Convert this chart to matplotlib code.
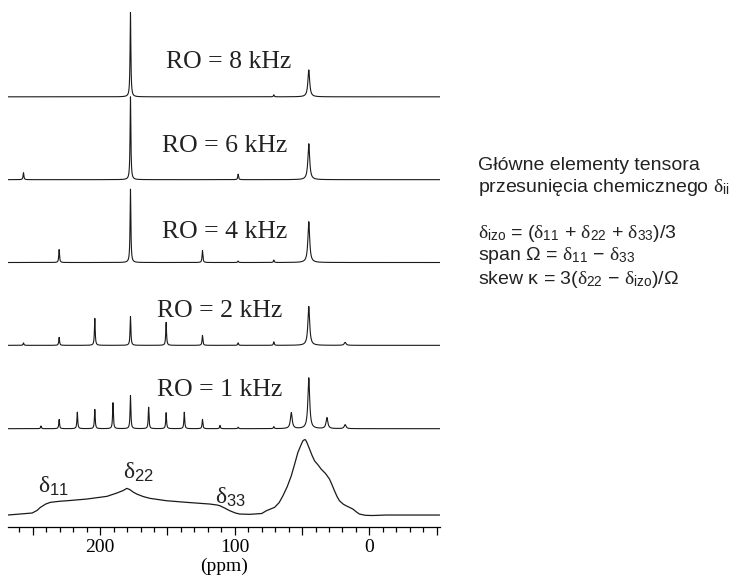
import numpy as np
import matplotlib.pyplot as plt
from matplotlib.ticker import MultipleLocator, FuncFormatter

plt.rcParams['mathtext.fontset'] = 'custom'
plt.rcParams['mathtext.rm'] = 'Liberation Sans'
plt.rcParams['mathtext.it'] = 'Liberation Serif'
plt.rcParams['mathtext.bf'] = 'Liberation Sans:bold'

# =========================
# Data
# =========================
# static powder pattern (ppm, intensity)
static_ppm = [268.6, 250.6, 247.0, 244.4, 240.5, 237.0, 230.0, 224.7, 210.0,
              195.0, 187.7, 183.0, 180.2, 178.0, 175.5, 172.8, 168.0, 163.0,
              150.6, 135.8, 118.5, 113.0, 111.1, 107.5, 103.7, 99.5, 96.3,
              88.9, 80.0, 76.5, 70.4, 67.0, 64.2, 61.0, 58.0, 55.5, 53.1,
              51.0, 49.4, 48.2, 47.4, 46.2, 44.4, 42.5, 40.7, 38.0, 35.8,
              32.5, 29.6, 27.8, 25.9, 24.0, 22.2, 19.5, 17.3, 14.5, 12.3,
              9.5, 7.4, 3.0, -2.5, -12.3, -30.0, -52.0]
static_int = [0.0, 2.0, 4.5, 7.7, 11.0, 12.7, 13.8, 14.3, 16.0,
              18.7, 22.0, 24.5, 26.7, 25.5, 23.0, 21.0, 18.5, 16.7,
              14.3, 12.7, 11.0, 10.0, 9.3, 7.0, 4.3, 2.0, 1.0,
              0.7, 1.5, 4.3, 7.7, 12.5, 19.3, 28.5, 39.3, 51.0, 62.7,
              69.5, 74.3, 75.5, 75.3, 72.0, 66.0, 59.5, 54.3, 50.0, 46.0,
              41.5, 36.0, 30.5, 24.3, 18.5, 14.3, 11.0, 9.3, 7.5, 6.0,
              3.0, 1.0, -0.3, -0.5, 0.0, 0.0, 0.0]

# spinning spectra: peak positions (ppm) and heights
ro1_ppm = [244.0, 230.5, 217.0, 204.0, 190.5, 177.5, 164.0, 151.0, 137.5,
           124.0, 111.0, 97.5, 71.0, 58.0, 45.0, 31.5, 18.0]
ro1_h = [2.7, 9.3, 16.5, 19.3, 26.0, 33.3, 21.5, 16.0, 16.5,
         9.3, 3.3, 1.5, 2.0, 16.0, 51.0, 11.0, 4.0]

ro2_ppm = [257.0, 230.5, 204.0, 177.5, 151.0, 124.0, 97.5, 71.0, 45.0, 18.0]
ro2_h = [2.5, 8.0, 27.0, 29.0, 23.0, 10.0, 2.5, 3.5, 39.0, 3.0]

ro4_ppm = [230.5, 177.5, 124.0, 97.5, 71.0, 45.0]
ro4_h = [13.0, 73.5, 12.0, 1.5, 2.5, 41.0]

ro6_ppm = [257.0, 177.5, 97.5, 45.0]
ro6_h = [7.0, 83.0, 5.5, 36.0]

ro8_ppm = [177.5, 71.0, 45.0]
ro8_h = [84.5, 2.0, 27.0]

spectra = [("RO = 1 kHz", ro1_ppm, ro1_h),
           ("RO = 2 kHz", ro2_ppm, ro2_h),
           ("RO = 4 kHz", ro4_ppm, ro4_h),
           ("RO = 6 kHz", ro6_ppm, ro6_h),
           ("RO = 8 kHz", ro8_ppm, ro8_h)]

offsets = [86.5, 170.0, 253.0, 336.0, 419.0]
label_pos = [(158, 125), (158, 204), (154, 284), (154, 370), (151, 454)]

LINE_COLOR = "#1a1a1a"


def lorentz_sum(x, centers, heights):
    y = np.zeros_like(x)
    for c, h in zip(centers, heights):
        w = 0.8 if c < 60 else 0.35
        y += h * w ** 2 / ((x - c) ** 2 + w ** 2)
    return y


fig = plt.figure(figsize=(7.32, 5.78), dpi=100)
ax = fig.add_axes([8 / 732, 51 / 578, 432 / 732, 522 / 578])

x = np.linspace(268.5, -52.5, 9000)

# static pattern
ax.plot(static_ppm, static_int, color=LINE_COLOR, lw=0.9)

for (label, ppm, h), off, (lx, ly) in zip(spectra, offsets, label_pos):
    ax.plot(x, lorentz_sum(x, ppm, h) + off, color=LINE_COLOR, lw=0.8)
    ax.text(lx, ly, label, family="Liberation Serif", fontsize=18.5,
            ha="left", va="center", color="#222222")

# principal components on static pattern
ax.text(246, 29, r"$\delta_{11}$", fontsize=17, ha="left", va="center", color="#222222")
ax.text(183, 43, r"$\delta_{22}$", fontsize=17, ha="left", va="center", color="#222222")
ax.text(115, 18, r"$\delta_{33}$", fontsize=17, ha="left", va="center", color="#222222")

ax.set_xlim(268.5, -52.5)
ax.set_ylim(-12, 511)
for s in ["top", "left", "right"]:
    ax.spines[s].set_visible(False)
ax.spines["bottom"].set_linewidth(0.9)
ax.set_yticks([])
ax.xaxis.set_major_locator(MultipleLocator(50))
ax.xaxis.set_minor_locator(MultipleLocator(10))
ax.xaxis.set_major_formatter(FuncFormatter(lambda v, p: f"{v:.0f}" if abs(v % 100) < 1e-6 else ""))
ax.tick_params(axis="x", which="major", length=6, width=0.9, direction="out",
               labelsize=14, pad=3)
ax.tick_params(axis="x", which="minor", length=3.5, width=0.9, direction="out")
for t in ax.get_xticklabels():
    t.set_family("Liberation Serif")
ax.set_xlabel("(ppm)", family="Liberation Serif", fontsize=14, labelpad=0.5)

# =========================
# Right-hand description
# =========================
txt = dict(family="Liberation Sans", fontsize=14, ha="left", va="center", color="#222222")
lines = [(165, "Główne elementy tensora"),
         (187, r"przesunięcia chemicznego $\delta_{\mathrm{ii}}$"),
         (233, r"$\delta_{\mathrm{izo}}$ = ($\delta_{11}$ + $\delta_{22}$ + $\delta_{33}$)/3"),
         (256, r"span Ω = $\delta_{11}$ − $\delta_{33}$"),
         (279, r"skew κ = 3($\delta_{22}$ − $\delta_{\mathrm{izo}}$)/Ω")]
for yp, s in lines:
    fig.text(478 / 732, 1 - yp / 578, s, **txt)

fig.savefig("out.png", dpi=100)
